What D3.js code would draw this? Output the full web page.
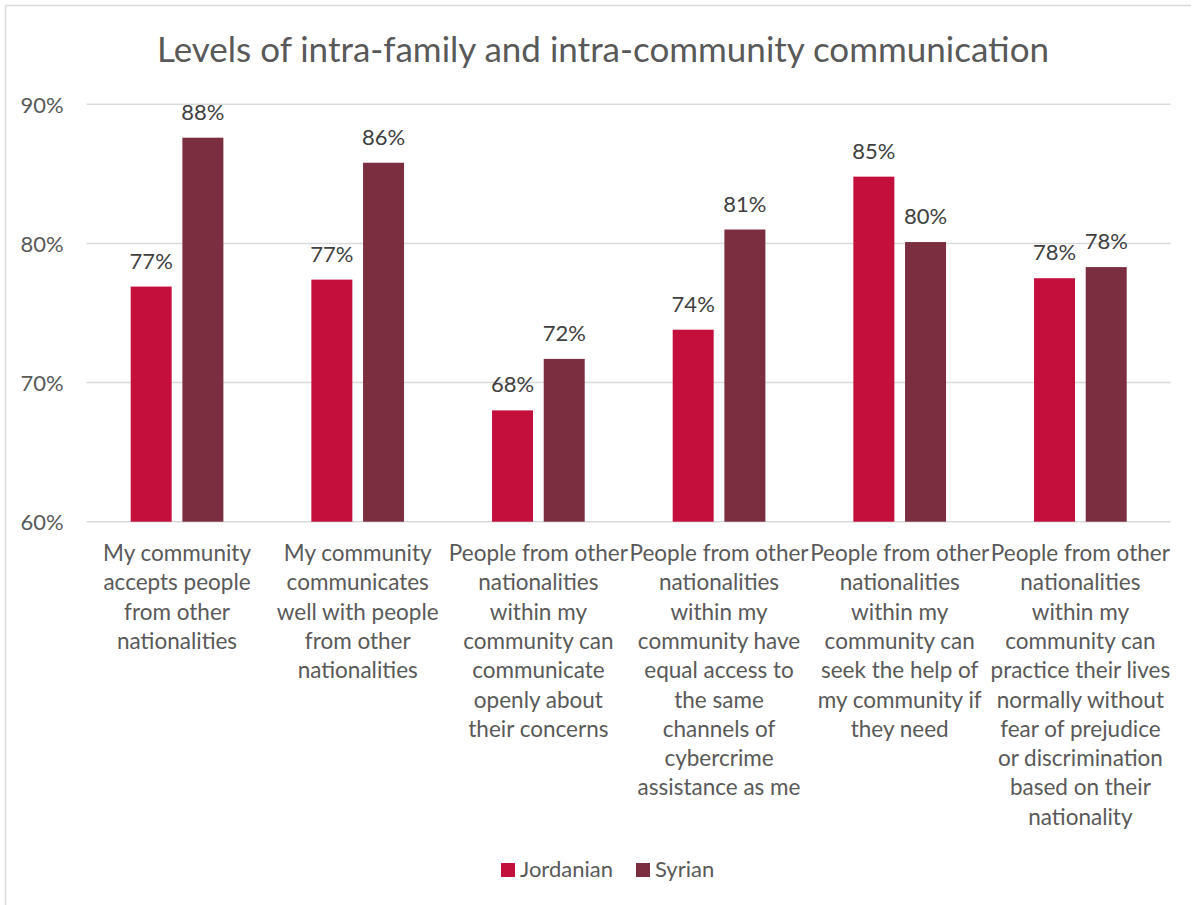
<!DOCTYPE html>
<html>
<head>
<meta charset="utf-8">
<script src="https://cdn.jsdelivr.net/npm/d3@7"></script>
<style>
  html, body { margin: 0; padding: 0; background: #fff; }
  svg { display: block; font-family: Lato, "Open Sans", sans-serif; }
</style>
</head>
<body>
<svg id="chart" width="1195" height="905"></svg>
<script>
// Survey categories (pre-wrapped lines for the axis labels)
const categories = [
  ["My community", "accepts people", "from other", "nationalities"],
  ["My community", "communicates", "well with people", "from other", "nationalities"],
  ["People from other", "nationalities", "within my", "community can", "communicate", "openly about", "their concerns"],
  ["People from other", "nationalities", "within my", "community have", "equal access to", "the same", "channels of", "cybercrime", "assistance as me"],
  ["People from other", "nationalities", "within my", "community can", "seek the help of", "my community if", "they need"],
  ["People from other", "nationalities", "within my", "community can", "practice their lives", "normally without", "fear of prejudice", "or discrimination", "based on their", "nationality"]
];
const seriesNames = ["Jordanian", "Syrian"];
const jordanian = [0.769, 0.774, 0.680, 0.738, 0.848, 0.775];
const syrian    = [0.876, 0.858, 0.717, 0.810, 0.801, 0.783];
const yTicks = [0.6, 0.7, 0.8, 0.9];
const title = "Levels of intra-family and intra-community communication";

const colors = { Jordanian: "#C40F3D", Syrian: "#7A2E40" };

const svg = d3.select("#chart");

// Chart frame (top and left edges visible)
svg.append("line").attr("x1", 5.5).attr("x2", 1191).attr("y1", 5.5).attr("y2", 5.5)
  .attr("stroke", "#D9D9D9").attr("stroke-width", 1.5);
svg.append("line").attr("x1", 5.5).attr("x2", 5.5).attr("y1", 5.5).attr("y2", 905)
  .attr("stroke", "#D9D9D9").attr("stroke-width", 1.5);

const plot = { left: 86.7, right: 1170.7, top: 104.3, bottom: 521.7 };

const y = d3.scaleLinear().domain([0.6, 0.9]).range([plot.bottom, plot.top]);
const keys = categories.map((c, i) => i);
const x0 = d3.scaleBand().domain(keys).range([plot.left, plot.right]).padding(0);
const outerGap = x0.bandwidth() * 0.2435;
const x1 = d3.scaleBand().domain(seriesNames)
  .range([outerGap, x0.bandwidth() - outerGap]).paddingInner(0.207);

// Gridlines
svg.append("g").selectAll("line").data(yTicks).join("line")
  .attr("x1", plot.left).attr("x2", plot.right)
  .attr("y1", d => y(d)).attr("y2", d => y(d))
  .attr("stroke", "#D9D9D9").attr("stroke-width", 1.5);

// Y axis labels
const fmt = d3.format(".0%");
const yAxis = d3.axisLeft(y).tickValues(yTicks).tickFormat(fmt).tickSize(0).tickPadding(0);
const yg = svg.append("g").attr("transform", `translate(${plot.left - 23},0)`).call(yAxis);
yg.select(".domain").remove();
yg.selectAll("text").attr("fill", "#595959").attr("font-size", 22)
  .attr("font-family", "Lato, sans-serif").attr("dy", "0.36em");

// Title
svg.append("text").attr("x", 603).attr("y", 62).attr("text-anchor", "middle")
  .attr("fill", "#595959").attr("font-size", 35).text(title);

// Bars and value labels
const rows = keys.map(i => ({ i, values: [
  { key: "Jordanian", value: jordanian[i] },
  { key: "Syrian", value: syrian[i] }
]}));

const groups = svg.append("g").selectAll("g").data(rows).join("g")
  .attr("transform", d => `translate(${x0(d.i)},0)`);

groups.selectAll("rect").data(d => d.values).join("rect")
  .attr("x", d => x1(d.key)).attr("width", x1.bandwidth())
  .attr("y", d => y(d.value)).attr("height", d => y(0.6) - y(d.value))
  .attr("fill", d => colors[d.key]);

groups.selectAll("text.val").data(d => d.values).join("text")
  .attr("class", "val")
  .attr("x", d => x1(d.key) + x1.bandwidth() / 2)
  .attr("y", d => y(d.value) - 18)
  .attr("text-anchor", "middle").attr("fill", "#404040").attr("font-size", 22)
  .text(d => fmt(d.value));

// Category labels
const xl = svg.append("g");
categories.forEach((lines, i) => {
  const t = xl.append("text").attr("text-anchor", "middle")
    .attr("fill", "#595959").attr("font-size", 22.5)
    .attr("transform", `translate(${x0(i) + x0.bandwidth() / 2},561)`);
  lines.forEach((ln, k) => {
    t.append("tspan").attr("x", 0).attr("y", k * 29.3).text(ln);
  });
});

// Legend
const legend = svg.append("g").attr("transform", "translate(501,863)");
const legendX = [0, 135];
seriesNames.forEach((s, k) => {
  const g = legend.append("g").attr("transform", `translate(${legendX[k]},0)`);
  g.append("rect").attr("width", 14).attr("height", 14).attr("fill", colors[s]);
  g.append("text").attr("x", 19).attr("y", 14).attr("fill", "#595959")
    .attr("font-size", 22).text(s);
});
</script>
</body>
</html>
